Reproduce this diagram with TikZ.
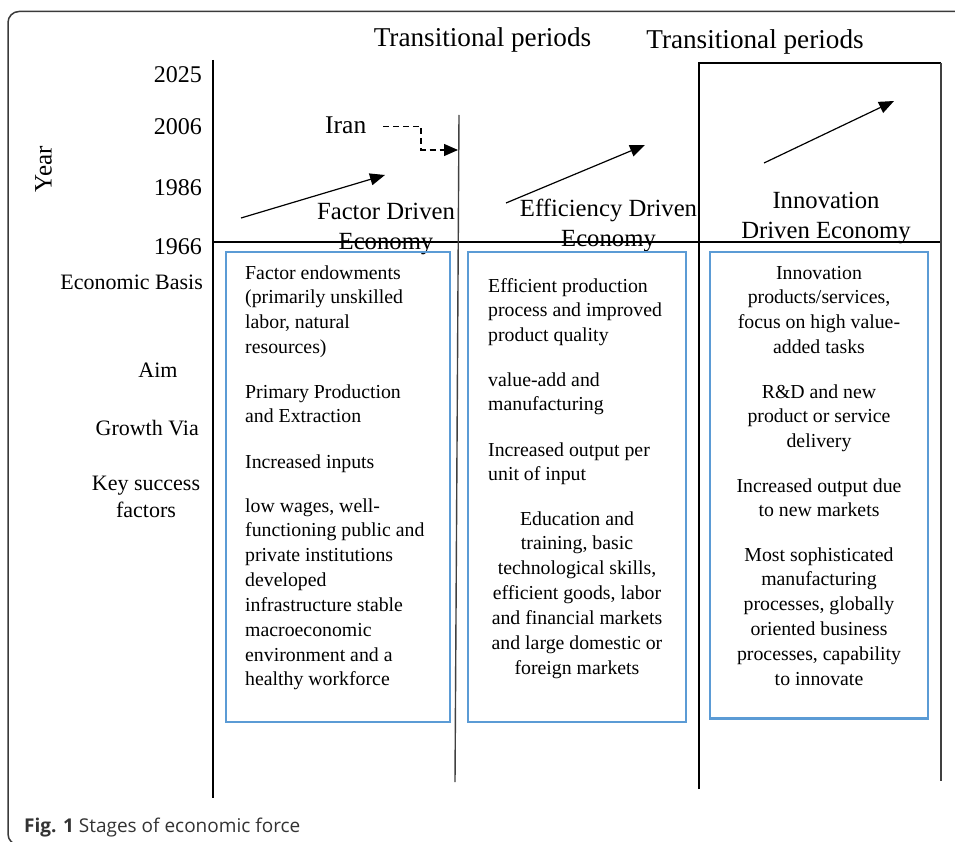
\documentclass[tikz,border=0pt]{standalone}
\usepackage{fontspec}
\setmainfont{Liberation Serif}
\newfontfamily\capfont{Open Sans}
\usetikzlibrary{arrows.meta}
\definecolor{boxblue}{HTML}{5B9BD5}
\definecolor{framegray}{HTML}{3A3A3A}
\begin{document}
\begin{tikzpicture}[x=1pt,y=-1pt,
  axis/.style={line width=2pt,draw=black},
  thinaxis/.style={line width=1.4pt,draw=black!75},
  trend/.style={line width=1.2pt,-{Triangle[length=15pt,width=12pt]}},
  infobox/.style={draw=boxblue,line width=2.8pt},
  boxtext/.style={font=\fontsize{19.8}{24.85}\selectfont,inner sep=0pt,anchor=base west,align=left},
  boxtextc/.style={font=\fontsize{19.8}{24.85}\selectfont,inner sep=0pt,anchor=base,align=center},
  rowlabel/.style={font=\fontsize{22}{27}\selectfont,inner sep=0pt},
  yearlabel/.style={font=\fontsize{24}{28}\selectfont,inner sep=0pt,anchor=base east},
  stagelabel/.style={font=\fontsize{24.7}{30}\selectfont,inner sep=0pt,anchor=base,align=center},
  periodlabel/.style={font=\fontsize{27.2}{32}\selectfont,inner sep=0pt,anchor=base},
]
\useasboundingbox (0,0) rectangle (955,842);
\begin{scope}
\clip (0,0) rectangle (955,842);
\draw[framegray,line width=1.5pt,rounded corners=11pt] (8,11.5) rectangle (990,845);
\end{scope}

% axes and frame lines
\coordinate (axT) at (213,60);
\coordinate (axB) at (213,798);
\draw[axis] (axT) -- (axB);
\coordinate (hL) at (213,242.5);
\coordinate (hR) at (941,242.5);
\draw[axis] (hL) -- (hR);
\coordinate (mT) at (459,115);
\coordinate (mB) at (455,782);
\draw[thinaxis] (mT) -- (mB);
\coordinate (rTL) at (699,63);
\coordinate (rTR) at (941,63);
\coordinate (rBL) at (699,789);
\coordinate (rBR) at (941,781);
\draw[axis] (rBL) -- (rTL) -- (rTR);
\draw[thinaxis] (rTR) -- (rBR);

% titles
\node[periodlabel] (tp1) at (482.5,47) {Transitional periods};
\node[periodlabel] (tp2) at (755,49) {Transitional periods};

% years
\node[yearlabel] (y2025) at (202,83) {2025};
\node[yearlabel] (y2006) at (202,135) {2006};
\node[yearlabel] (y1986) at (202,196) {1986};
\node[yearlabel] (y1966) at (202,254.5) {1966};
\node[font=\fontsize{25}{30}\selectfont,inner sep=0pt,rotate=90] (year) at (43.5,169) {Year};

% trend arrows
\coordinate (a1s) at (241,218);
\coordinate (a1e) at (385,175);
\draw[trend] (a1s) -- (a1e);
\coordinate (a2s) at (506,203);
\coordinate (a2e) at (645,145);
\draw[trend] (a2s) -- (a2e);
\coordinate (a3s) at (764,163);
\coordinate (a3e) at (894,101);
\draw[trend] (a3s) -- (a3e);

% Iran
\node[font=\fontsize{25.5}{30}\selectfont,inner sep=0pt,anchor=base west] (iran) at (325,133.5) {Iran};
\coordinate (ir1) at (383,126.5);
\coordinate (ir2) at (421,126.5);
\coordinate (ir3) at (421,150);
\coordinate (ir4) at (458,150);
\draw[line width=1.2pt,dash pattern=on 6pt off 4pt,-{Triangle[length=14pt,width=12pt]}] (ir1) -- (ir2) -- (ir3) -- (ir4);

% stage labels (anchor = baseline of last line)
\node[stagelabel] (st1) at (386,250) {Factor Driven\\Economy};
\node[stagelabel] (st2) at (608.5,247) {Efficiency Driven\\Economy};
\node[stagelabel] (st3) at (826,239) {Innovation\\Driven Economy};

% row labels
\node[rowlabel,anchor=base east] (rl1) at (203,289) {Economic Basis};
\node[rowlabel,anchor=base] (rl2) at (158,377) {Aim};
\node[rowlabel,anchor=base east] (rl3) at (199,435) {Growth Via};
\node[rowlabel,anchor=base,align=center] (rl4) at (146,517) {Key success\\factors};

% boxes
\draw[infobox] (226,252) rectangle (450,722);
\draw[infobox] (468,252) rectangle (686,722);
\draw[infobox] (710,252) rectangle (928,718.5);

% box 1 (anchor = baseline of last line)
\node[boxtext] (b1a) at (245,353.55) {Factor endowments\\(primarily unskilled\\labor, natural\\resources)};
\node[boxtext] (b1b) at (245,422.85) {Primary Production\\and Extraction};
\node[boxtext] (b1c) at (245,468) {Increased inputs};
\node[boxtext] (b1d) at (245,685.95) {low wages, well-\\functioning public and\\private institutions\\developed\\infrastructure stable\\macroeconomic\\environment and a\\healthy workforce};

% box 2
\node[boxtext] (b2a) at (488,341.7) {Efficient production\\process and improved\\product quality};
\node[boxtext] (b2b) at (488,410.85) {value-add and\\manufacturing};
\node[boxtext] (b2c) at (488,480.85) {Increased output per\\unit of input};
\node[boxtextc] (b2d) at (577,674.1) {Education and\\training, basic\\technological skills,\\efficient goods, labor\\and financial markets\\and large domestic or\\foreign markets};

% box 3
\node[boxtextc] (b3a) at (819,353.55) {Innovation\\products/services,\\focus on high value-\\added tasks};
\node[boxtextc] (b3b) at (819,447.7) {R\&D and new\\product or service\\delivery};
\node[boxtextc] (b3c) at (819,516.85) {Increased output due\\to new markets};
\node[boxtextc] (b3d) at (819,685.25) {Most sophisticated\\manufacturing\\processes, globally\\oriented business\\processes, capability\\to innovate};

% caption
\node[font=\capfont\fontsize{19}{22}\selectfont,inner sep=0pt,anchor=base west,text=black!80] (cap) at (24,832) {\textbf{Fig. 1} Stages of economic force};
\end{tikzpicture}
\end{document}
